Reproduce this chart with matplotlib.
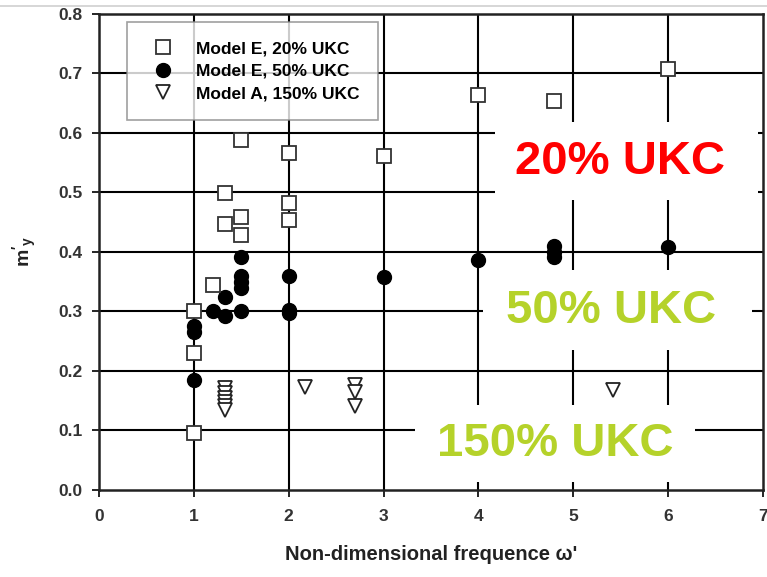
import matplotlib.pyplot as plt
from matplotlib.lines import Line2D
from matplotlib.patches import Rectangle

plt.rcParams['font.family'] = ['Liberation Sans', 'DejaVu Sans']
plt.rcParams['mathtext.fontset'] = 'custom'
plt.rcParams['mathtext.rm'] = 'Liberation Sans:bold'
plt.rcParams['mathtext.it'] = 'Liberation Sans:bold'
plt.rcParams['mathtext.bf'] = 'Liberation Sans:bold'

# Model E, 20% UKC
e20_x = [1.0, 1.0, 1.0, 1.2, 1.33, 1.33, 1.5, 1.5, 1.5, 2.0, 2.0, 2.0, 3.0, 4.0, 4.8, 6.0]
e20_y = [0.301, 0.230, 0.096, 0.345, 0.499, 0.447, 0.589, 0.459, 0.428, 0.566, 0.482, 0.453, 0.561, 0.663, 0.654, 0.707]

# Model E, 50% UKC
e50_x = [1.0, 1.0, 1.0, 1.2, 1.33, 1.33, 1.5, 1.5, 1.5, 1.5, 1.5, 2.0, 2.0, 2.0, 3.0, 4.0, 4.8, 4.8, 4.8, 6.0]
e50_y = [0.275, 0.265, 0.185, 0.300, 0.325, 0.292, 0.391, 0.360, 0.350, 0.340, 0.300, 0.360, 0.303, 0.297, 0.358, 0.387, 0.410, 0.400, 0.392, 0.408]

# Model A, 150% UKC
a150_x = [1.33, 1.33, 1.33, 1.33, 1.33, 1.33, 2.17, 2.7, 2.7, 2.7, 5.42]
a150_y = [0.172, 0.163, 0.155, 0.148, 0.141, 0.135, 0.173, 0.176, 0.165, 0.141, 0.168]

labels = ['Model E, 20% UKC', 'Model E, 50% UKC', 'Model A, 150% UKC']
x_ticks = [0, 1, 2, 3, 4, 5, 6, 7]
y_ticks = [0.0, 0.1, 0.2, 0.3, 0.4, 0.5, 0.6, 0.7, 0.8]

fig = plt.figure(figsize=(7.67, 5.77), dpi=100)
ax = fig.add_axes([0.129, 0.1508, 0.866, 0.825])

# grid
for x in x_ticks[1:-1]:
    ax.axvline(x, color='black', lw=1.5, zorder=1)
for y in y_ticks[1:-1]:
    ax.axhline(y, color='black', lw=1.5, zorder=1)

ax.plot(e20_x, e20_y, 's', ms=10, mfc='white', mec='#333333', mew=1.3, zorder=4, label=labels[0])
ax.plot(e50_x, e50_y, 'o', ms=10, mfc='black', mec='black', zorder=3, label=labels[1])
ax.plot(a150_x, a150_y, 'v', ms=10, mfc='white', mec='#222222', mew=1.3, zorder=3, label=labels[2])

ax.set_xlim(0, 7)
ax.set_ylim(0, 0.8)
ax.set_xticks(x_ticks)
ax.set_yticks(y_ticks)
ax.set_yticklabels([f'{v:.1f}' for v in y_ticks])
ax.tick_params(direction='out', length=5, width=1.2, labelsize=12.5, labelcolor='#333333')
ax.tick_params(axis='y', pad=7)
ax.tick_params(axis='x', pad=9)
for lab in ax.get_xticklabels() + ax.get_yticklabels():
    lab.set_fontweight('bold')
for sp in ax.spines.values():
    sp.set_linewidth(1.8)
    sp.set_color('#222222')

ax.set_xlabel("Non-dimensional frequence \u03c9'", fontsize=14.5, fontweight='bold',
              color='#222222', labelpad=15)
ax.set_ylabel(r"$\mathrm{m'_y}$", fontsize=14, color='#222222', labelpad=14)

leg = ax.legend(loc='upper left', bbox_to_anchor=(127 / 767, 1 - 22 / 577),
                bbox_transform=fig.transFigure, borderaxespad=0, frameon=True, fancybox=False,
                edgecolor='#888888', borderpad=1.1, handletextpad=0.85,
                labelspacing=0.42, prop={'weight': 'bold', 'size': 12.5})
leg.get_frame().set_linewidth(1.2)
leg.set_zorder(6)

# annotation boxes
boxes = [
    ((4.175, 0.487), 2.772, 0.131, 5.49, 0.552, '20% UKC', '#ff0000'),
    ((4.048, 0.235), 2.836, 0.135, 5.40, 0.300, '50% UKC', '#b5d22a'),
    ((3.330, 0.013), 2.953, 0.130, 4.81, 0.078, '150% UKC', '#b5d22a'),
]
for (x0, y0), w, h, tx, ty, txt, col in boxes:
    ax.add_patch(Rectangle((x0, y0), w, h, facecolor='white', edgecolor='none', zorder=2))
    ax.text(tx, ty, txt, color=col, fontsize=34, fontweight='bold', ha='center', va='center', zorder=5)

fig.add_artist(Line2D([0, 1], [1 - 6 / 577, 1 - 6 / 577], color='#d0d0d0', lw=1.2))

fig.savefig('out.png', dpi=100)
